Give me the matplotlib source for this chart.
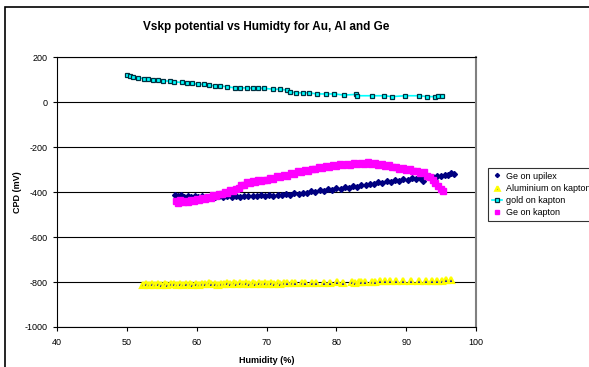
import matplotlib
matplotlib.use("Agg")
import matplotlib.pyplot as plt
from matplotlib.patches import Rectangle

plt.rcParams['font.family'] = ['Liberation Sans', 'DejaVu Sans']
plt.rcParams['axes.unicode_minus'] = False

# Ge on upilex
ge_up_h = [56.9, 57.3, 57.7, 58.2, 58.7, 59.2, 59.7, 60.2, 60.8, 61.4, 62.0, 62.6,
           63.2, 63.8, 64.4, 65.0, 65.6, 66.2, 66.8, 67.4, 68.0, 68.6, 69.2, 69.8,
           70.4, 71.0, 71.6, 72.2, 72.8, 73.4, 74.0, 74.6, 75.2, 75.8, 76.4, 77.0,
           77.6, 78.2, 78.8, 79.4, 80.0, 80.6, 81.2, 81.8, 82.4, 83.0, 83.6, 84.2,
           84.8, 85.4, 86.0, 86.6, 87.2, 87.8, 88.4, 89.0, 89.6, 90.2, 90.8, 91.4,
           92.0, 92.4, 92.6, 93.2, 93.8, 94.4, 95.0, 95.5, 96.0, 96.4, 96.8]
ge_up_v = [-412, -418, -414, -420, -416, -422, -418, -423, -419, -424, -420, -423,
           -419, -422, -418, -421, -417, -420, -416, -419, -415, -418, -414, -416,
           -412, -415, -411, -413, -409, -411, -406, -408, -402, -404, -397, -399,
           -392, -394, -388, -390, -383, -385, -378, -380, -373, -375, -368, -370,
           -362, -364, -357, -359, -352, -354, -348, -349, -343, -345, -339, -341,
           -336, -350, -334, -330, -332, -326, -328, -322, -324, -316, -320]

# Aluminium on kapton
al_h = [52.3, 52.7, 53.2, 53.6, 54.0, 54.5, 54.9, 55.4, 55.8, 56.3, 56.7, 57.2,
        57.6, 58.1, 58.5, 59.0, 59.4, 59.9, 60.3, 60.8, 61.2, 61.7, 62.1, 62.6,
        63.0, 63.5, 63.9, 64.4, 64.8, 65.3, 65.7, 66.2, 66.6, 67.1, 67.5, 68.0,
        68.4, 68.9, 69.3, 69.8, 70.2, 70.7, 71.1, 71.6, 72.0, 72.5, 73.0, 73.6,
        74.1, 75.1, 75.5, 76.5, 77.1, 78.2, 79.1, 80.1, 81.0, 82.2, 82.7, 83.2,
        83.6, 84.1, 85.1, 85.6, 86.3, 87.0, 87.7, 88.6, 89.6, 90.7, 91.8, 92.9,
        93.7, 94.4, 95.1, 95.7, 96.4]
al_v = [-812, -808, -813, -809, -811, -807, -812, -808, -811, -807, -810, -812,
        -808, -811, -807, -810, -812, -808, -811, -807, -810, -806, -810, -807,
        -811, -807, -809, -806, -810, -806, -809, -805, -808, -806, -809, -805,
        -808, -805, -809, -806, -808, -804, -807, -805, -808, -804, -806, -803,
        -806, -804, -806, -803, -805, -803, -804, -802, -803, -801, -803, -800,
        -802, -800, -801, -798, -797, -796, -796, -797, -794, -797, -796, -795,
        -797, -795, -794, -792, -792]

# gold on kapton
au_h = [50.0, 50.5, 50.9, 51.6, 52.4, 53.1, 53.8, 54.5, 55.2, 56.2, 56.7, 57.9,
        58.6, 59.3, 60.2, 61.0, 61.7, 62.6, 63.4, 64.3, 65.5, 66.2, 67.2, 68.1,
        68.8, 69.6, 71.0, 72.0, 72.9, 73.3, 74.2, 75.2, 76.1, 77.2, 78.5, 79.7,
        81.1, 82.8, 83.0, 85.1, 86.8, 88.0, 89.8, 91.8, 93.0, 94.2, 94.6, 95.1]
au_v = [123, 117, 113, 110, 105, 102, 98, 98, 95, 94, 91, 88,
        84, 84, 80, 80, 76, 73, 73, 69, 64, 64, 64, 62,
        62, 62, 58, 58, 54, 47, 42, 42, 42, 37, 37, 37,
        32, 35, 29, 29, 29, 25, 29, 29, 25, 25, 27, 29]

# Ge on kapton
ge_k_h = [57.0, 57.3, 57.6, 58.0, 58.4, 58.8, 59.2, 59.6, 60.0, 60.4, 60.8, 61.2,
          61.6, 62.0, 62.4, 62.8, 63.2, 63.6, 64.0, 64.4, 64.8, 65.2, 65.6, 66.0,
          66.4, 66.8, 67.2, 67.6, 68.0, 68.4, 68.8, 69.2, 69.6, 70.0, 70.5, 71.0,
          71.5, 72.0, 72.5, 73.0, 73.5, 74.0, 74.5, 75.0, 75.5, 76.0, 76.5, 77.0,
          77.5, 78.0, 78.5, 79.0, 79.5, 80.0, 80.5, 81.0, 81.5, 82.0, 82.5, 83.0,
          83.5, 84.0, 84.5, 85.0, 85.5, 86.0, 86.5, 87.0, 87.5, 88.0, 88.5, 89.0,
          89.5, 90.0, 90.5, 91.0, 91.5, 92.0, 92.5, 93.0, 93.4, 93.8, 94.2, 94.6,
          95.0, 95.3]
ge_k_v = [-440, -448, -436, -445, -438, -442, -434, -440, -430, -436, -426, -430,
          -420, -424, -414, -418, -408, -410, -400, -402, -392, -394, -384, -380,
          -370, -366, -356, -360, -350, -356, -348, -352, -344, -348, -338, -340,
          -330, -332, -322, -326, -316, -318, -308, -312, -302, -304, -296, -298,
          -290, -294, -284, -288, -280, -284, -276, -280, -274, -278, -272, -276,
          -270, -274, -268, -276, -272, -280, -276, -284, -280, -290, -286, -296,
          -292, -300, -298, -308, -304, -316, -312, -326, -334, -346, -358, -372,
          -384, -394]

W, H = 589, 367
fig = plt.figure(figsize=(W / 100, H / 100), dpi=100)
fig.patches.append(Rectangle((5 / W, -0.1), 1.2, 1 - 7 / H + 0.1, transform=fig.transFigure,
                             fill=False, edgecolor='black', linewidth=1.2))

ax = fig.add_axes([57 / W, 1 - 327 / H, (476 - 57) / W, (327 - 57.3) / H])

ax.plot(ge_up_h, ge_up_v, linestyle='none', marker='D', markersize=3,
        color='#000080', label='Ge on upilex')
ax.plot(al_h, al_v, linestyle='none', marker='^', markersize=4.5,
        markerfacecolor='#0000c0', markeredgecolor='#ffff00', markeredgewidth=1.6,
        label='Aluminium on kapton')
ax.plot(au_h, au_v, color='#00ffff', linewidth=1.2, marker='s', markersize=3.5,
        markerfacecolor='#00ffff', markeredgecolor='#003040', markeredgewidth=0.9,
        label='gold on kapton')
ax.plot(ge_k_h, ge_k_v, linestyle='none', marker='s', markersize=4.5,
        color='#ff00ff', label='Ge on kapton')

ax.set_xlim(40, 100)
ax.set_ylim(-1000, 200)
ax.set_xticks(range(40, 101, 10))
ax.set_yticks(range(-1000, 201, 200))
ax.yaxis.grid(True, color='black', linewidth=0.8)
ax.set_axisbelow(True)
ax.tick_params(labelsize=6.5, length=3, width=0.8, direction='out', colors='black')
ax.tick_params(axis='x', pad=5)

ax.spines['right'].set_color('#808080')
ax.spines['right'].set_linewidth(1.5)
ax.spines['top'].set_color('black')
ax.spines['top'].set_linewidth(0.8)

ax.set_xlabel('Humidity (%)', fontsize=6.5, fontweight='bold')
ax.set_ylabel('CPD (mV)', fontsize=6.5, fontweight='bold')
ax.yaxis.set_label_coords((22 - 57) / 419, 0.5)
ax.xaxis.set_label_coords(0.5, -(356 - 327) / 270)
ax.set_title('Vskp potential vs Humidty for Au, Al and Ge', fontsize=8.5,
             fontweight='bold', pad=20)

leg = fig.legend(loc='upper left', bbox_to_anchor=(488 / W, 1 - 168 / H),
                 fontsize=6.5, frameon=True, fancybox=False, borderpad=0.4,
                 handlelength=1.2, handletextpad=0.4, labelspacing=0.35,
                 borderaxespad=0, markerscale=0.7)
leg.get_frame().set_edgecolor('black')
leg.get_frame().set_linewidth(0.8)

fig.savefig('out.png', dpi=100)
